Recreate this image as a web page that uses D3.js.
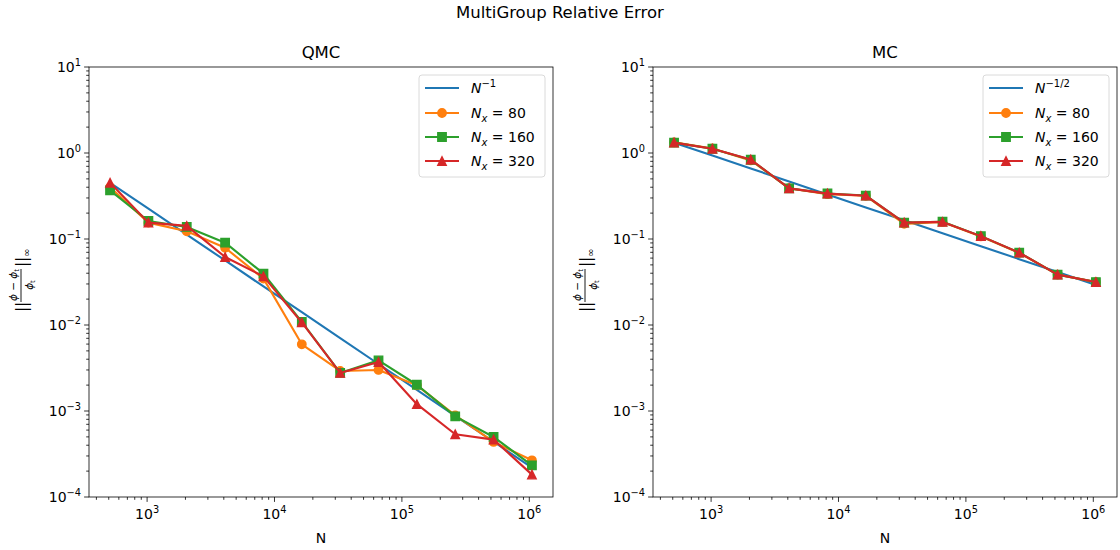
<!DOCTYPE html>
<html>
<head>
<meta charset="utf-8">
<script src="https://cdn.jsdelivr.net/npm/d3@7"></script>
<style>
  body { margin: 0; background: #fff; }
  text { font-family: "DejaVu Sans", sans-serif; fill: #000; }
</style>
</head>
<body>
<div id="chart"></div>
<script>
// sample counts N = 2^9 .. 2^20
const nVals = [512, 1024, 2048, 4096, 8192, 16384, 32768, 65536, 131072, 262144, 524288, 1048576];

// QMC panel
const qmcRef = [0.45, 0.225, 0.1125, 0.0563, 0.0281, 0.0141, 0.00703, 0.00352, 0.00176, 0.000879, 0.000439, 0.00022];
const qmc80 = [0.40, 0.155, 0.123, 0.079, 0.0346, 0.00596, 0.00292, 0.00300, 0.00199, 0.00089, 0.000437, 0.000267];
const qmc160 = [0.368, 0.162, 0.138, 0.0906, 0.0396, 0.01084, 0.00277, 0.00388, 0.00202, 0.000867, 0.000499, 0.000233];
const qmc320 = [0.45, 0.155, 0.142, 0.0618, 0.0368, 0.0107, 0.00277, 0.00371, 0.00120, 0.000536, 0.000465, 0.000182];

// MC panel
const mcRef = [1.32, 0.933, 0.66, 0.467, 0.33, 0.233, 0.165, 0.117, 0.0825, 0.0583, 0.0413, 0.0292];
const mc80 = [1.33, 1.13, 0.82, 0.39, 0.332, 0.318, 0.150, 0.158, 0.107, 0.0690, 0.0386, 0.0315];
const mc160 = [1.32, 1.12, 0.835, 0.388, 0.338, 0.320, 0.155, 0.159, 0.108, 0.0695, 0.0385, 0.0316];
const mc320 = [1.32, 1.12, 0.84, 0.388, 0.337, 0.319, 0.155, 0.158, 0.108, 0.0693, 0.0385, 0.0316];

const W = 1120, H = 550;
const colors = ["#1f77b4", "#ff7f0e", "#2ca02c", "#d62728"];

const svg = d3.select("#chart").append("svg")
  .attr("width", W).attr("height", H);

svg.append("text")
  .attr("x", 560).attr("y", 18)
  .attr("text-anchor", "middle")
  .style("font-size", "16.5px")
  .text("MultiGroup Relative Error");

function pow10(sel, exp, size) {
  sel.append("tspan").text("10");
  sel.append("tspan")
    .attr("dy", -size * 0.45)
    .style("font-size", (size * 0.7) + "px")
    .text(exp);
}

// matplotlib-like markers: o, s, ^
const ms = 4.2;
const markerPath = [
  () => { const p = d3.path(); p.arc(0, 0, ms, 0, 2 * Math.PI); return p.toString(); },
  () => `M${-ms},${-ms}H${ms}V${ms}H${-ms}Z`,
  () => `M0,${-ms}L${ms},${ms}L${-ms},${ms}Z`
];

function panel(left, title, refLabel, ref, series) {
  const top = 67, bottom = 497, right = left + 464;
  const x = d3.scaleLog().domain([Math.pow(10, 2.544), Math.pow(10, 6.186)]).range([left, right]);
  const y = d3.scaleLog().domain([1e-4, 10]).range([bottom, top]);
  const g = svg.append("g");

  // title
  g.append("text")
    .attr("x", (left + right) / 2).attr("y", 58)
    .attr("text-anchor", "middle")
    .style("font-size", "16.5px")
    .text(title);

  // ticks
  const xMajor = [1e3, 1e4, 1e5, 1e6];
  const xMinor = [];
  for (let e = 2; e <= 6; e++) for (let m = 2; m <= 9; m++) {
    const v = m * Math.pow(10, e);
    if (v >= x.domain()[0] && v <= x.domain()[1]) xMinor.push(v);
  }
  const yMajor = [1e-4, 1e-3, 1e-2, 1e-1, 1, 10];
  const yMinor = [];
  for (let e = -4; e < 1; e++) for (let m = 2; m <= 9; m++) yMinor.push(m * Math.pow(10, e));

  const tk = g.append("g").attr("stroke", "#000").attr("stroke-width", 0.8);
  tk.selectAll(".xm").data(xMajor).join("line")
    .attr("x1", d => x(d)).attr("x2", d => x(d))
    .attr("y1", bottom).attr("y2", bottom + 4.9);
  tk.selectAll(".xn").data(xMinor).join("line")
    .attr("x1", d => x(d)).attr("x2", d => x(d))
    .attr("y1", bottom).attr("y2", bottom + 2.8);
  tk.selectAll(".ym").data(yMajor).join("line")
    .attr("y1", d => y(d)).attr("y2", d => y(d))
    .attr("x1", left).attr("x2", left - 4.9);
  tk.selectAll(".yn").data(yMinor).join("line")
    .attr("y1", d => y(d)).attr("y2", d => y(d))
    .attr("x1", left).attr("x2", left - 2.8);

  xMajor.forEach(v => {
    const t = g.append("text")
      .attr("x", x(v)).attr("y", bottom + 22)
      .attr("text-anchor", "middle")
      .style("font-size", "14px");
    pow10(t, Math.round(Math.log10(v)), 14);
  });
  yMajor.forEach(v => {
    const e = Math.round(Math.log10(v));
    const t = g.append("text")
      .attr("x", left - 8).attr("y", y(v) + 5)
      .attr("text-anchor", "end")
      .style("font-size", "14px");
    pow10(t, e < 0 ? "\u2212" + (-e) : String(e), 14);
  });

  // x label
  g.append("text")
    .attr("x", (left + right) / 2).attr("y", 543)
    .attr("text-anchor", "middle")
    .style("font-size", "14px")
    .text("N");

  // y label (rotated math)
  const yl = g.append("g").attr("transform", `translate(${left - 68},285) rotate(-90)`);
  yl.append("text").attr("x", -27).attr("y", 6).style("font-size", "15px").text("||");
  const nm = yl.append("text").attr("x", 0).attr("y", -4).attr("text-anchor", "middle").style("font-size", "10.5px");
  nm.append("tspan").style("font-style", "italic").text("\u03d5 \u2212 \u03d5");
  nm.append("tspan").attr("dy", 2).style("font-size", "7px").text("t");
  yl.append("line").attr("x1", -17).attr("x2", 16).attr("y1", 0).attr("y2", 0)
    .attr("stroke", "#000").attr("stroke-width", 0.9);
  const dn = yl.append("text").attr("x", 0).attr("y", 12).attr("text-anchor", "middle").style("font-size", "10.5px");
  dn.append("tspan").style("font-style", "italic").text("\u03d5");
  dn.append("tspan").attr("dy", 2).style("font-size", "7px").text("t");
  const yr = yl.append("text").attr("x", 18).attr("y", 6).style("font-size", "15px");
  yr.append("tspan").text("||");
  yr.append("tspan").attr("dy", 3).style("font-size", "10px").text("\u221e");

  // lines
  const line = d3.line().x((d, i) => x(nVals[i])).y(d => y(d));
  const plot = g.append("g");
  plot.append("path").datum(ref)
    .attr("fill", "none").attr("stroke", colors[0]).attr("stroke-width", 2.1)
    .attr("d", line);

  series.forEach((s, k) => {
    const c = colors[k + 1];
    plot.append("path").datum(s)
      .attr("fill", "none").attr("stroke", c).attr("stroke-width", 2.1)
      .attr("stroke-linejoin", "round")
      .attr("d", line);
    plot.selectAll(null).data(s).join("path")
      .attr("transform", (d, i) => `translate(${x(nVals[i])},${y(d)})`)
      .attr("d", markerPath[k]())
      .attr("fill", c).attr("stroke", c).attr("stroke-width", 1.4);
  });

  // frame
  g.append("rect")
    .attr("x", left).attr("y", top)
    .attr("width", right - left).attr("height", bottom - top)
    .attr("fill", "none").attr("stroke", "#000").attr("stroke-width", 0.8);

  // legend
  const lx = right - 134, ly = 75;
  const lg = g.append("g");
  lg.append("rect")
    .attr("x", lx).attr("y", ly).attr("width", 126).attr("height", 102)
    .attr("rx", 3).attr("fill", "#fff").attr("fill-opacity", 0.8)
    .attr("stroke", "#d0d0d0").attr("stroke-width", 0.8);
  const rows = [88, 113, 137, 161];
  const labels = [refLabel, "80", "160", "320"];
  rows.forEach((ry, i) => {
    lg.append("line")
      .attr("x1", lx + 6).attr("x2", lx + 40).attr("y1", ry).attr("y2", ry)
      .attr("stroke", colors[i]).attr("stroke-width", 2.1);
    if (i > 0) {
      lg.append("path")
        .attr("transform", `translate(${lx + 23},${ry})`)
        .attr("d", markerPath[i - 1]())
        .attr("fill", colors[i]).attr("stroke", colors[i]).attr("stroke-width", 1.4);
    }
    const t = lg.append("text").attr("x", lx + 52).attr("y", ry + 5).style("font-size", "14px");
    t.append("tspan").style("font-style", "italic").text("N");
    if (i === 0) {
      t.append("tspan").attr("dy", -6).style("font-size", "10px").text(labels[0]);
    } else {
      t.append("tspan").attr("dy", 4).style("font-size", "10px").style("font-style", "italic").text("x");
      t.append("tspan").attr("dy", -4).text(" = " + labels[i]);
    }
  });
}

panel(89, "QMC", "\u22121", qmcRef, [qmc80, qmc160, qmc320]);
panel(653, "MC", "\u22121/2", mcRef, [mc80, mc160, mc320]);
</script>
</body>
</html>
